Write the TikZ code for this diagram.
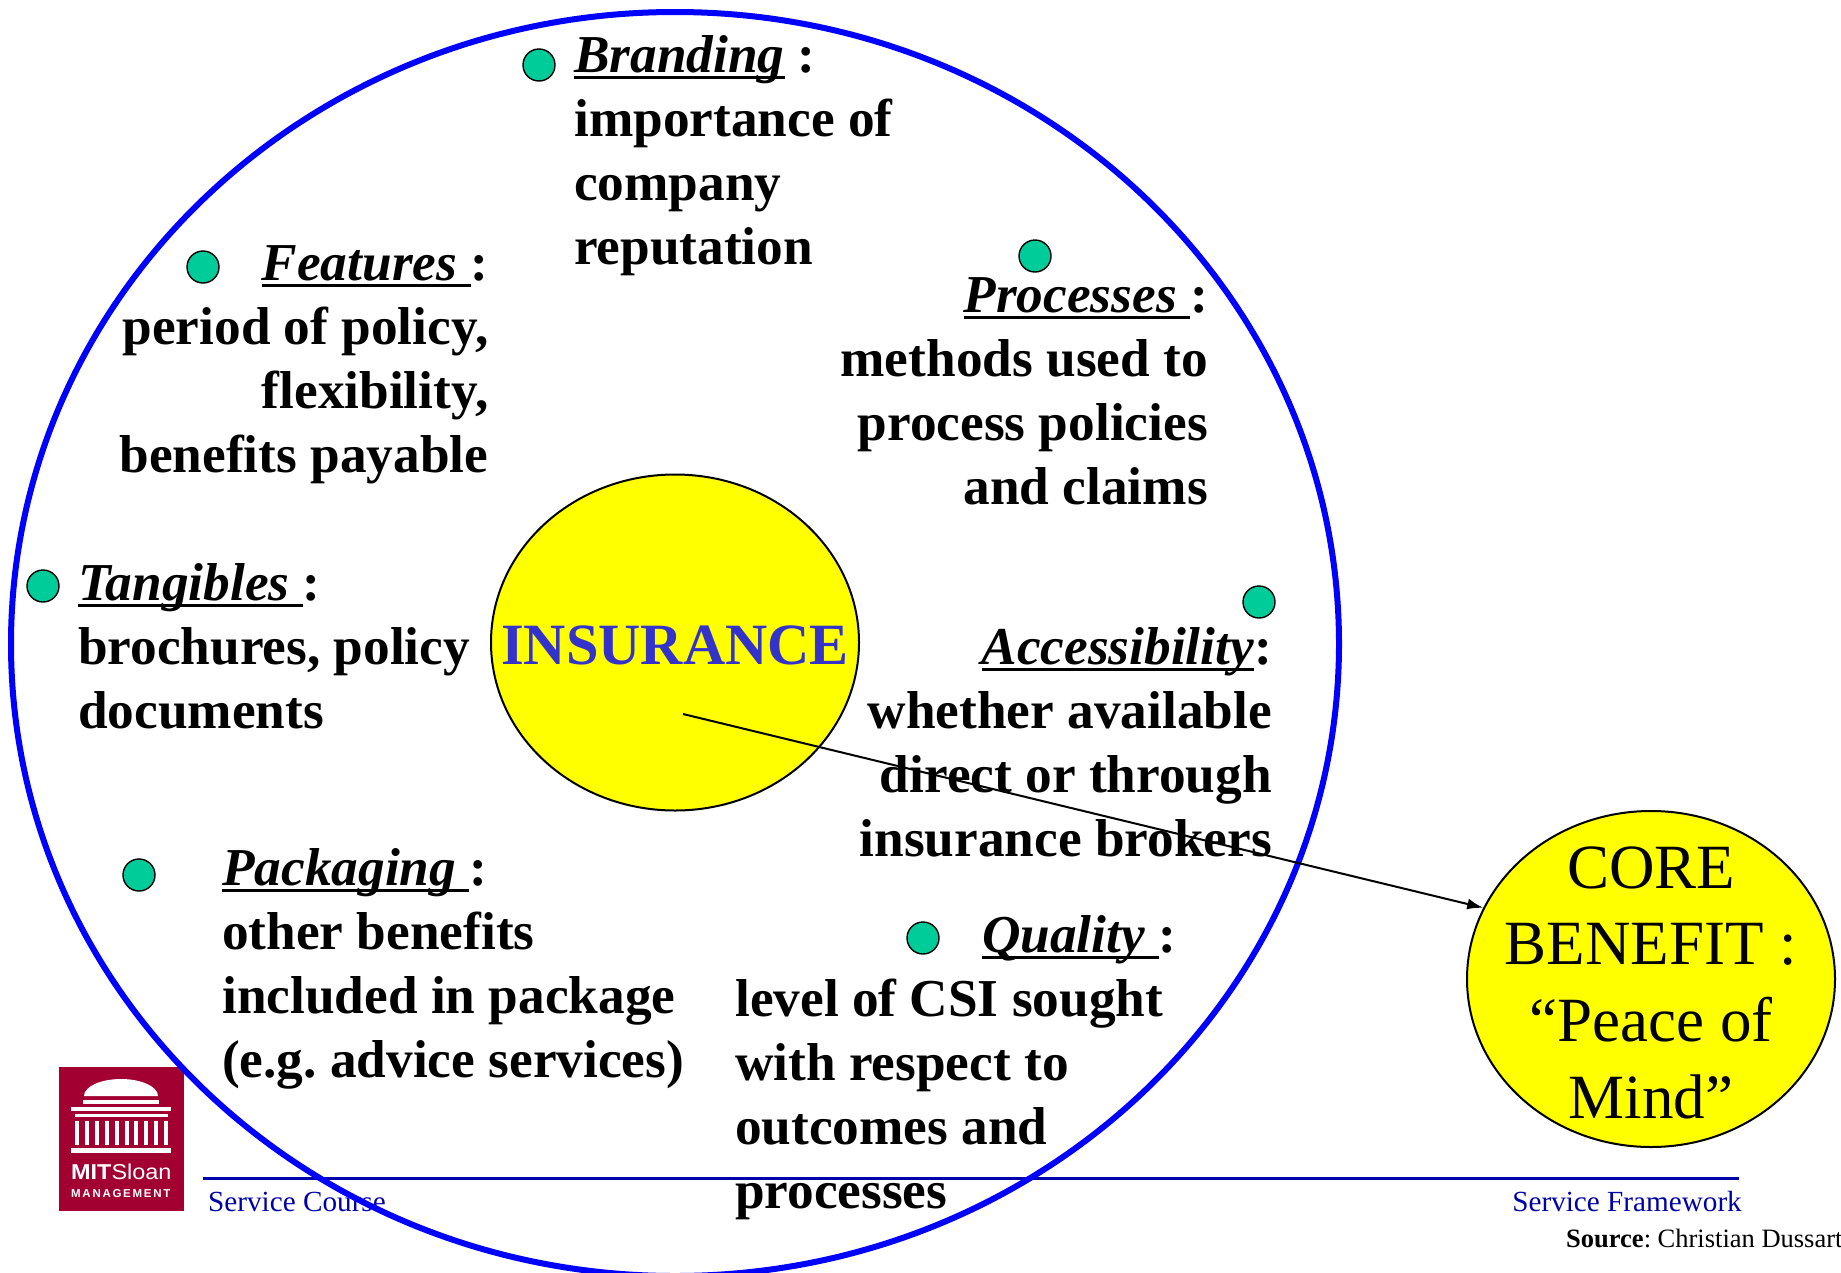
\documentclass[tikz,border=0pt]{standalone}
\usepackage{fontspec}
\setmainfont{Liberation Serif}
\newfontfamily\logofont{Liberation Sans}
\usetikzlibrary{arrows.meta,shapes.geometric}
\definecolor{bul}{RGB}{0,204,153}
\definecolor{blu}{RGB}{0,0,255}
\definecolor{foot}{RGB}{0,0,170}
\definecolor{mit}{RGB}{163,0,50}
\definecolor{ins}{RGB}{51,51,204}
\definecolor{yel}{RGB}{255,255,0}
\newcommand{\ulx}[1]{\setbox0\hbox{\textit{#1}}\rlap{\rule[-6.5pt]{\wd0}{3pt}}\box0\relax}
\newcommand{\fl}{\rule{0pt}{40pt}}
\frenchspacing
\tikzset{
  bulletdot/.style={circle,draw=black,line width=1.4pt,fill=bul,minimum size=32pt,inner sep=0},
  iteml/.style={font=\fontsize{53.3}{64}\selectfont\bfseries,inner sep=0,anchor=north west,align=left},
  itemr/.style={font=\fontsize{53.3}{64}\selectfont\bfseries,inner sep=0,anchor=north east,align=right},
  yell/.style={ellipse,draw=black,line width=2pt,fill=yel,minimum width=368pt,minimum height=336pt,inner sep=0},
  foottext/.style={font=\fontsize{29.2}{32}\selectfont,text=foot,inner sep=0},
  logotext/.style={text=white,inner sep=0,anchor=base west},
  logobar/.style={fill=white,draw=none}
}
\begin{document}
\begin{tikzpicture}[x=1pt,y=-1pt]
\useasboundingbox (0,0) rectangle (1841,1272);
% footer
\coordinate (rl) at (203,1178);
\coordinate (rr) at (1739,1178);
\draw[foot,line width=3pt] (rl) -- (rr);
\node[foottext,anchor=base west] (sc) at (208,1211) {Service Course};
\node[foottext,anchor=base east] (sf) at (1742,1211) {Service Framework};
\node[font=\fontsize{26.5}{30}\selectfont,inner sep=0,anchor=base west] (src) at (1566,1247) {\textbf{Source}: Christian Dussart};
% logo
\fill[mit] (59,1067) rectangle (184,1211);
\fill[logobar] (84,1096) arc [start angle=180,end angle=360,x radius=37,y radius=17] -- cycle;
\fill[logobar] (83,1100) rectangle (159,1103.7);
\fill[logobar] (71,1107) rectangle (171,1111);
\fill[logobar] (74.5,1113.7) rectangle (168,1117);
\foreach \i in {0,...,9} {\fill[logobar] ({75+\i*9.9},1121) rectangle ({79+\i*9.9},1145);}
\fill[logobar] (71,1148) rectangle (171,1153);
\node[logotext,font=\logofont\fontsize{21.5}{24}\selectfont\addfontfeature{FakeStretch=1.09}] (ms) at (71,1179) {\textbf{MIT}Sloan};
\node[logotext,font=\logofont\fontsize{11.5}{14}\selectfont\bfseries\addfontfeature{LetterSpace=15}] (mg) at (71,1197) {MANAGEMENT};
% large circle
\node[ellipse,draw=blu,line width=6pt,minimum width=1328pt,minimum height=1264pt,inner sep=0] (outer) at (675,644) {};
% bullets
\node[bulletdot] (b1) at (539,65) {};
\node[bulletdot] (b2) at (203,267) {};
\node[bulletdot] (b3) at (1035,256) {};
\node[bulletdot] (b4) at (43,586) {};
\node[bulletdot] (b5) at (1259,602) {};
\node[bulletdot] (b6) at (139,875) {};
\node[bulletdot] (b7) at (923,938) {};
% items
\node[iteml] (branding) at (574,32.5) {\fl\ulx{Branding} :\\importance of\\company\\reputation};
\node[itemr] (features) at (488.5,240) {\fl\ulx{Features\ }:\\period of policy,\\flexibility,\\benefits payable};
\node[itemr] (processes) at (1208,272.5) {\fl\ulx{Processes\ }:\\methods used to\\process policies\\and claims};
\node[iteml] (tangibles) at (78,560.5) {\fl\ulx{Tangibles\ }:\\brochures, policy\\documents};
\node[itemr] (access) at (1272,624) {\fl\ulx{Accessibility}:\\whether available\\direct or through\\insurance brokers};
\node[iteml] (packaging) at (222,845) {\fl\ulx{Packaging\ }:\\other benefits\\included in package\\(e.g. advice services)};
\node[iteml] (quality) at (735,912) {\fl\hspace*{247pt}\ulx{Quality\ }:\\level of CSI sought\\with respect to\\outcomes and\\processes};
% yellow circles
\node[yell] (insurance) at (675,642.5) {};
\node[font=\fontsize{58.5}{60}\selectfont\bfseries,text=ins,inner sep=0,anchor=base] (instext) at (675,664.5) {INSURANCE};
\node[yell] (core) at (1651,979) {};
\node[font=\fontsize{63}{76.7}\selectfont,inner sep=0,align=center,anchor=center] (coretext) at (1651,982.5) {CORE\\BENEFIT :\\“Peace of\\Mind”};
% connector
\coordinate (start) at (683,714);
\draw[-{Latex[length=16pt,width=11pt]},line width=2pt] (start) -- (core.157);
\end{tikzpicture}
\end{document}
